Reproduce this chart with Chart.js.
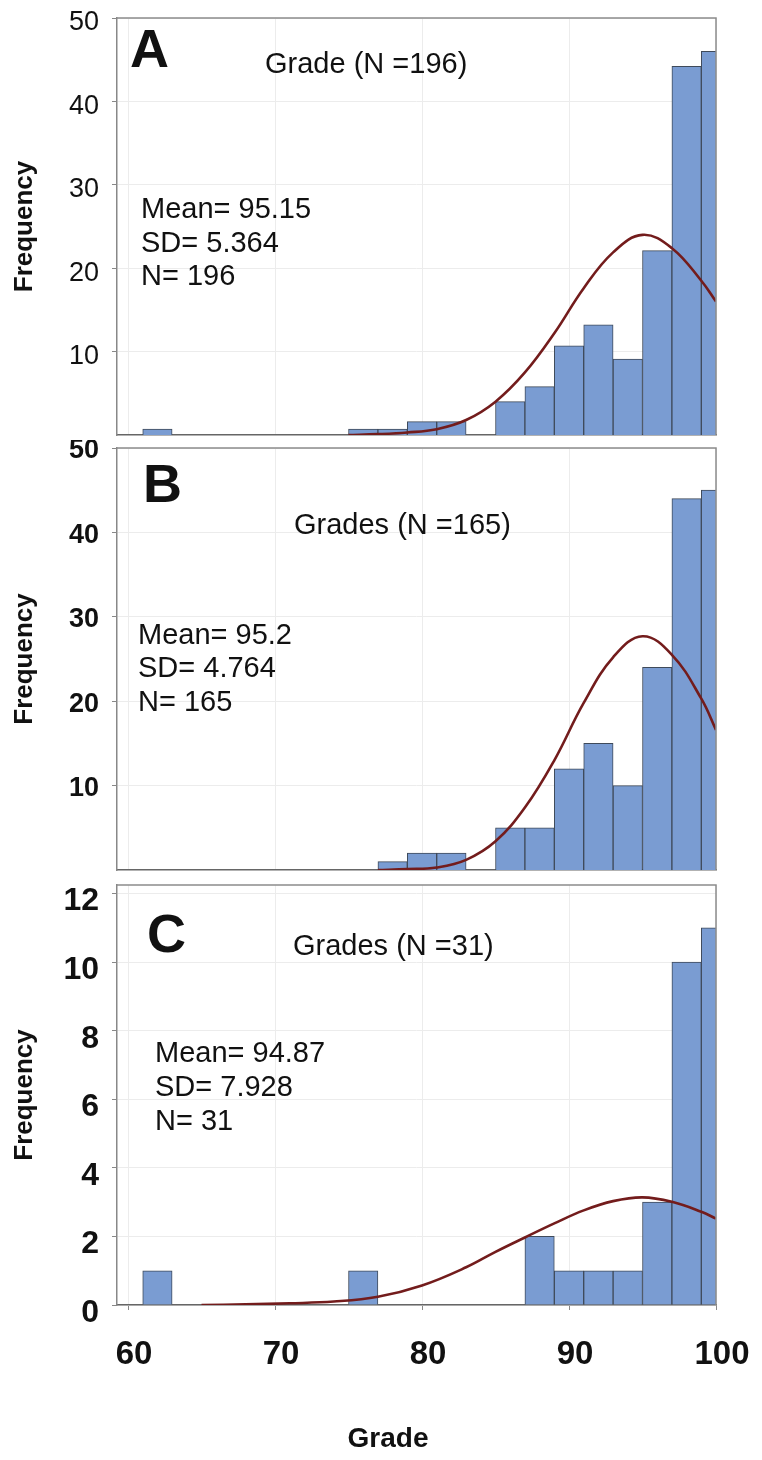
<!DOCTYPE html>
<html>
<head>
<meta charset="utf-8">
<title>Grade histograms</title>
<script src="https://cdn.jsdelivr.net/npm/chart.js@4.4.1/dist/chart.umd.min.js"></script>
<style>
  html, body { margin: 0; padding: 0; background: #fff; }
  #wrap { position: relative; width: 762px; height: 1460px; overflow: hidden; }
  #wrap canvas { position: absolute; left: 0; }
</style>
</head>
<body>
<div id="wrap">
  <canvas id="chartA" width="762" height="444" style="top:0px;width:762px;height:444px"></canvas>
  <canvas id="chartB" width="762" height="440" style="top:440px;width:762px;height:440px"></canvas>
  <canvas id="chartC" width="762" height="580" style="top:880px;width:762px;height:580px"></canvas>
</div>
<script>
// histogram bins are 2 grade points wide, labelled by their centre
const binCentres = [60, 62, 64, 66, 68, 70, 72, 74, 76, 78, 80, 82, 84, 86, 88, 90, 92, 94, 96, 98, 100];

// frequencies
const countsA = [0, 0.7, 0, 0, 0, 0, 0, 0, 0.7, 0.7, 1.6, 1.6, 0, 4.0, 5.8, 10.7, 13.2, 9.1, 22.1, 44.2, 46.0];
const countsB = [0, 0, 0, 0, 0, 0, 0, 0, 0, 1, 2, 2, 0, 5, 5, 12, 15, 10, 24, 44, 45];
const countsC = [0, 1, 0, 0, 0, 0, 0, 0, 1, 0, 0, 0, 0, 0, 2, 1, 1, 1, 3, 10, 11];

// normal curves, points
const curveAx = [75, 77, 79, 81, 83, 85, 87, 89, 91, 93, 95, 97, 99, 100];
const curveAy = [0.0, 0.1, 0.3, 0.7, 1.8, 4.0, 7.5, 12.2, 17.6, 21.9, 24.0, 22.4, 18.5, 16.0];
const curveBx = [77, 79, 81, 83, 85, 87, 89, 91, 93, 95, 97, 99, 100];
const curveBy = [0.0, 0.1, 0.3, 1.2, 3.4, 7.4, 13.0, 19.8, 25.2, 27.7, 25.5, 20.3, 16.6];
const curveCx = [65, 68, 71, 74, 77, 80, 83, 85, 87, 89, 91, 93, 95, 97, 99, 100];
const curveCy = [0.0, 0.02, 0.05, 0.1, 0.24, 0.57, 1.1, 1.55, 1.97, 2.38, 2.76, 3.03, 3.14, 3.01, 2.72, 2.52];

const xTicks = [60, 70, 80, 90, 100];
const yTicksA = [10, 20, 30, 40, 50];
const yTicksB = [10, 20, 30, 40, 50];
const yTicksC = [0, 2, 4, 6, 8, 10, 12];

const titleA = 'Grade (N =196)';
const titleB = 'Grades (N =165)';
const titleC = 'Grades (N =31)';
const statsA = ['Mean= 95.15', 'SD= 5.364', 'N= 196'];
const statsB = ['Mean= 95.2', 'SD= 4.764', 'N= 165'];
const statsC = ['Mean= 94.87', 'SD= 7.928', 'N= 31'];

const FONT = '"Liberation Sans", Arial, sans-serif';
Chart.defaults.font.family = FONT;
Chart.defaults.color = '#111';

// top and right edges of the plot frame
const framePlugin = {
  id: 'frame',
  afterDatasetsDraw(chart) {
    const { ctx, chartArea: a } = chart;
    ctx.save();
    ctx.strokeStyle = '#8c8c8c';
    ctx.lineWidth = 1.5;
    ctx.beginPath();
    ctx.moveTo(a.left, a.top);
    ctx.lineTo(a.right, a.top);
    ctx.lineTo(a.right, a.bottom);
    ctx.stroke();
    ctx.restore();
  }
};

function textPlugin(p) {
  return {
    id: 'panelText',
    afterDraw(chart) {
      const ctx = chart.ctx;
      const t = p.top;
      ctx.save();
      ctx.fillStyle = '#111';
      ctx.textAlign = 'left';
      ctx.textBaseline = 'alphabetic';
      ctx.font = 'bold 54px ' + FONT;
      ctx.fillText(p.letter, p.letterPos[0], p.letterPos[1] - t);
      ctx.font = '29px ' + FONT;
      ctx.fillText(p.title, p.titlePos[0], p.titlePos[1] - t);
      p.stats.forEach((s, i) => ctx.fillText(s, p.statsX, p.statsY[i] - t));
      if (p.xTitle) {
        ctx.textAlign = 'center';
        ctx.font = 'bold 28px ' + FONT;
        ctx.fillText(p.xTitle, p.xTitlePos[0], p.xTitlePos[1] - t);
      }
      ctx.restore();
    }
  };
}

function buildPanel(id, p) {
  const lastPanel = !!p.xTitle;
  return new Chart(document.getElementById(id), {
    type: 'bar',
    data: {
      datasets: [
        {
          type: 'line',
          data: p.curveX.map((x, i) => ({ x: x, y: p.curveY[i] })),
          borderColor: '#731c1c',
          borderWidth: 2.6,
          pointRadius: 0,
          fill: false,
          tension: 0.4,
          order: 0
        },
        {
          type: 'bar',
          data: binCentres.map((x, i) => ({ x: x, y: p.counts[i] })),
          backgroundColor: '#7a9cd2',
          borderColor: '#3f4a5a',
          borderWidth: 1,
          borderSkipped: 'bottom',
          barPercentage: 1,
          categoryPercentage: 1,
          order: 1
        }
      ]
    },
    options: {
      responsive: false,
      animation: false,
      layout: { padding: { top: p.padTop, bottom: p.padBottom, left: 0, right: 46 } },
      plugins: { legend: { display: false }, tooltip: { enabled: false } },
      scales: {
        x: {
          type: 'linear',
          min: 59.25,
          max: 100,
          offset: false,
          afterFit: s => {
            s.height = p.xHeight;
            s.paddingLeft = 0;
            s.paddingRight = 0;
          },
          afterBuildTicks: s => { s.ticks = xTicks.map(v => ({ value: v })); },
          ticks: {
            display: lastPanel,
            font: { size: 33, weight: 'bold' },
            color: '#111',
            padding: 25,
            labelOffset: 6,
            maxRotation: 0
          },
          grid: { color: '#ececec', offset: false, drawTicks: lastPanel, tickLength: 5, tickColor: '#888' },
          border: { color: '#666', width: 1.5 }
        },
        y: {
          min: 0,
          max: p.yMax,
          afterFit: s => {
            s.width = 117;
            s.paddingTop = 0;
            s.paddingBottom = 0;
          },
          afterBuildTicks: s => { s.ticks = p.yTicks.map(v => ({ value: v })); },
          ticks: {
            font: { size: p.yFontSize, weight: p.yFontWeight },
            color: '#111',
            padding: 13,
            labelOffset: p.yLabelOffset
          },
          grid: { color: '#ececec', tickColor: '#888', tickLength: 5 },
          border: { color: '#888', width: 1.5 },
          title: {
            display: true,
            text: 'Frequency',
            font: { size: 26, weight: 'bold' },
            color: '#111',
            padding: { top: 9, bottom: 0 }
          }
        }
      }
    },
    plugins: [framePlugin, textPlugin(p)]
  });
}

buildPanel('chartA', {
  top: 0, padTop: 18, padBottom: 9, xHeight: 0,
  counts: countsA, curveX: curveAx, curveY: curveAy,
  yMax: 50, yTicks: yTicksA, yFontSize: 27, yFontWeight: 'normal', yLabelOffset: 5,
  letter: 'A', letterPos: [130, 67],
  title: titleA, titlePos: [265, 73],
  stats: statsA, statsX: 141, statsY: [218, 252, 285]
});

buildPanel('chartB', {
  top: 440, padTop: 8, padBottom: 10, xHeight: 0,
  counts: countsB, curveX: curveBx, curveY: curveBy,
  yMax: 50, yTicks: yTicksB, yFontSize: 27, yFontWeight: 'bold', yLabelOffset: 3,
  letter: 'B', letterPos: [143, 502],
  title: titleB, titlePos: [294, 534],
  stats: statsB, statsX: 138, statsY: [644, 677, 711]
});

buildPanel('chartC', {
  top: 880, padTop: 5, padBottom: 0, xHeight: 155,
  counts: countsC, curveX: curveCx, curveY: curveCy,
  yMax: 12.25, yTicks: yTicksC, yFontSize: 32, yFontWeight: 'bold', yLabelOffset: 8,
  letter: 'C', letterPos: [147, 952],
  title: titleC, titlePos: [293, 955],
  stats: statsC, statsX: 155, statsY: [1062, 1096, 1130],
  xTitle: 'Grade', xTitlePos: [388, 1447]
});
</script>
</body>
</html>
